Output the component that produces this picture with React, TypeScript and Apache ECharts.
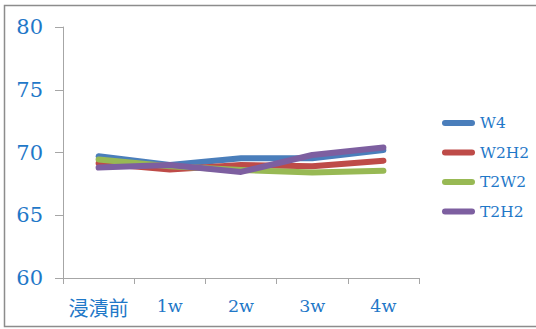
import React, { useEffect, useRef } from "react";
import * as echarts from "echarts";

// Soaking period categories and measured values per sample
const categories = ["浸漬前", "1w", "2w", "3w", "4w"];
const seriesNames = ["W4", "W2H2", "T2W2", "T2H2"];
const w4 = [69.7, 69.0, 69.55, 69.55, 70.2];
const w2h2 = [69.15, 68.65, 69.0, 68.9, 69.35];
const t2w2 = [69.45, 68.9, 68.6, 68.4, 68.55];
const t2h2 = [68.8, 69.0, 68.45, 69.8, 70.4];
const yTicks = { min: 60, max: 80, interval: 5 };

const colors = ["#4a7ebb", "#be4b48", "#98b954", "#7d5fa0"];
const textColor = "#1f78c8";
const axisColor = "#a6a6a6";
const fontFamily = "'DejaVu Serif', 'Liberation Serif', 'Noto Sans CJK JP', serif";

// Legend swatch: a short stroke with round ends
const legendIcon = "path://M3,0 H30 A3,3 0 0 1 30,6 H3 A3,3 0 0 1 3,0 Z";

const hasCJK = (s: string) => /[\u3000-\u9fff]/.test(s);

export default function App() {
  const ref = useRef<HTMLDivElement>(null);

  useEffect(() => {
    document.body.style.margin = "0";
    const chart = echarts.init(ref.current!, null, { renderer: "svg" });
    const values = [w4, w2h2, t2w2, t2h2];
    chart.setOption({
      animation: false,
      backgroundColor: "#ffffff",
      textStyle: { fontFamily },
      graphic: [
        {
          type: "rect",
          shape: { x: 4.5, y: 5.5, width: 540, height: 321 },
          style: { fill: "none", stroke: "#8c8c8c", lineWidth: 1.5 },
          silent: true,
        },
      ],
      grid: { left: 63, right: 117, top: 27, bottom: 51 },
      legend: {
        orient: "vertical",
        left: 437,
        top: 109,
        itemWidth: 33,
        itemHeight: 6,
        itemGap: 11.5,
        icon: legendIcon,
        data: seriesNames,
        textStyle: {
          color: textColor,
          fontSize: 15.5,
          lineHeight: 18,
          fontFamily,
        },
      },
      xAxis: {
        type: "category",
        data: categories,
        boundaryGap: true,
        axisLine: { lineStyle: { color: axisColor, width: 1 } },
        axisTick: { show: true, length: 6, lineStyle: { color: axisColor } },
        axisLabel: {
          interval: 0,
          color: textColor,
          fontSize: 17.5,
          margin: 19,
          fontFamily,
          formatter: (v: string) => (hasCJK(v) ? `{cjk|${v}}` : v),
          rich: {
            cjk: { fontSize: 20, color: textColor, fontFamily: "'Noto Sans CJK JP', sans-serif" },
          },
        },
        splitLine: { show: false },
      },
      yAxis: {
        type: "value",
        min: yTicks.min,
        max: yTicks.max,
        interval: yTicks.interval,
        axisLine: { show: true, lineStyle: { color: axisColor, width: 1 } },
        axisTick: { show: true, length: 8, lineStyle: { color: axisColor } },
        axisLabel: {
          color: textColor,
          fontSize: 21,
          margin: 20,
          fontFamily,
        },
        splitLine: { show: false },
      },
      series: seriesNames.map((name, i) => ({
        name,
        type: "line",
        data: values[i],
        showSymbol: false,
        symbol: "none",
        color: colors[i],
        lineStyle: { width: 6, color: colors[i], cap: "round", join: "round" },
      })),
    });
    return () => chart.dispose();
  }, []);

  return (
    <div
      ref={ref}
      style={{ position: "absolute", left: 0, top: 0, width: 536, height: 329 }}
    />
  );
}
